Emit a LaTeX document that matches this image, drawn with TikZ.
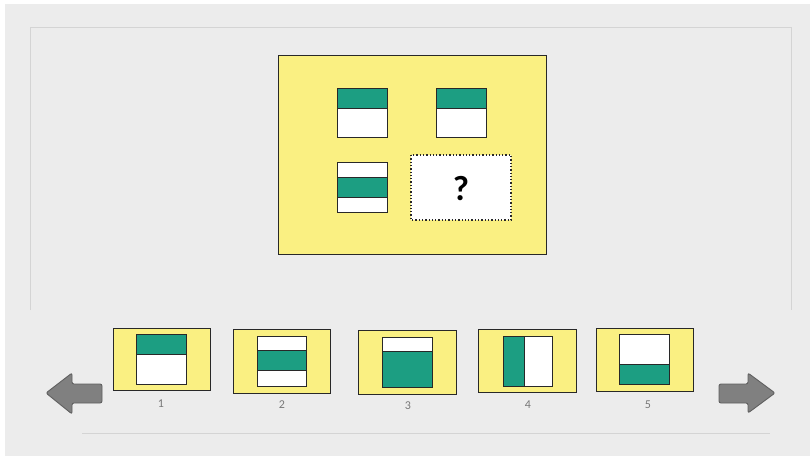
\documentclass[tikz,border=0pt]{standalone}
\usepackage{fontspec}
\setmainfont{Carlito}
\definecolor{tealc}{RGB}{28,158,130}
\definecolor{ylw}{RGB}{250,240,130}
\definecolor{bgc}{RGB}{236,236,236}
\definecolor{panelc}{RGB}{212,212,212}
\definecolor{edgec}{RGB}{40,40,40}
\definecolor{arrfill}{RGB}{128,128,128}
\definecolor{arredge}{RGB}{96,96,96}
\definecolor{numc}{RGB}{120,120,120}
\tikzset{
  panel/.style={draw=panelc, line width=1},
  ybox/.style={fill=ylw, draw=edgec, line width=0.9},
  wfill/.style={fill=white},
  tfill/.style={fill=tealc},
  tedge/.style={draw=edgec, line width=0.9},
  arrowshape/.style={fill=arrfill, draw=arredge, line width=0.9, rounded corners=2},
  numlabel/.style={text=numc, font=\fontsize{12}{12}\selectfont, inner sep=0},
  qmark/.style={font=\fontsize{35}{35}\selectfont\bfseries, text=black, inner sep=0}
}
\begin{document}
\begin{tikzpicture}[x=1pt,y=-1pt]
\useasboundingbox (0,0) rectangle (810,456);
\fill[white] (0,0) rectangle (810,456);
\fill[bgc] (5,4) rectangle (810,456);
\draw[panel] (30,310) -- (30,27) -- (791,27) -- (791,310);
\draw[panel] (82,433) -- (770,433);

% main puzzle box
\draw[ybox] (278,55) rectangle (546,254);
% tile A
\fill[wfill] (337,88) rectangle (387,137);
\fill[tfill] (337,88) rectangle (387,108);
\draw[tedge] (337,108) -- (387,108);
\draw[tedge] (337,88) rectangle (387,137);
% tile B
\fill[wfill] (436,88) rectangle (486,137);
\fill[tfill] (436,88) rectangle (486,108);
\draw[tedge] (436,108) -- (486,108);
\draw[tedge] (436,88) rectangle (486,137);
% tile C
\fill[wfill] (337,162) rectangle (387,212);
\fill[tfill] (337,177) rectangle (387,197);
\draw[tedge] (337,177) -- (387,177) (337,197) -- (387,197);
\draw[tedge] (337,162) rectangle (387,212);
% question box
\draw[fill=white, draw=edgec, line width=1.3, dotted] (411,155) rectangle (511,220);
\node[qmark] (q) at (461,189) {?};

% answer 1
\draw[ybox] (113,328) rectangle (210,390);
\fill[wfill] (136,334) rectangle (186,384);
\fill[tfill] (136,334) rectangle (186,354);
\draw[tedge] (136,354) -- (186,354);
\draw[tedge] (136,334) rectangle (186,384);
\node[numlabel] (n1) at (161,404) {1};
% answer 2
\draw[ybox] (233,329) rectangle (330,393);
\fill[wfill] (257,336) rectangle (306,386);
\fill[tfill] (257,350) rectangle (306,370);
\draw[tedge] (257,350) -- (306,350) (257,370) -- (306,370);
\draw[tedge] (257,336) rectangle (306,386);
\node[numlabel] (n2) at (282,405) {2};
% answer 3
\draw[ybox] (358,330) rectangle (456,394);
\fill[wfill] (382,337) rectangle (432,387);
\fill[tfill] (382,351) rectangle (432,387);
\draw[tedge] (382,351) -- (432,351);
\draw[tedge] (382,337) rectangle (432,387);
\node[numlabel] (n3) at (408,406) {3};
% answer 4
\draw[ybox] (478,329) rectangle (576,392);
\fill[wfill] (503,336) rectangle (552,386);
\fill[tfill] (503,336) rectangle (524,386);
\draw[tedge] (524,336) -- (524,386);
\draw[tedge] (503,336) rectangle (552,386);
\node[numlabel] (n4) at (528,405) {4};
% answer 5
\draw[ybox] (596,328) rectangle (693,391);
\fill[wfill] (619,334) rectangle (669,384);
\fill[tfill] (619,364) rectangle (669,384);
\draw[tedge] (619,364) -- (669,364);
\draw[tedge] (619,334) rectangle (669,384);
\node[numlabel] (n5) at (648,405) {5};

% navigation arrows
\draw[arrowshape] (102,384) -- (72,384) -- (72,373) -- (46,393) -- (72,414) -- (72,403) -- (102,403) -- cycle;
\draw[arrowshape] (719,384) -- (748,384) -- (748,373) -- (775,393) -- (748,413) -- (748,403) -- (719,403) -- cycle;
\end{tikzpicture}
\end{document}
